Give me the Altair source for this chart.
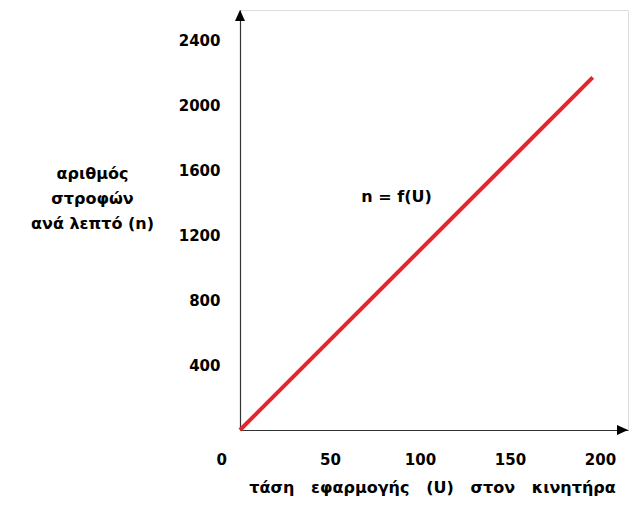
import altair as alt
import pandas as pd

# Data
voltage = [0, 196]          # U
speed = [0, 2170]           # n
x_ticks = [0, 50, 100, 150, 200]
y_ticks = [400, 800, 1200, 1600, 2000, 2400]
note_text = ["n = f(U)"]
note_x = [87]
note_y = [1434]

X_MAX = 215.6
Y_MAX = 2585

FONT = "DejaVu Sans"
W, H = 388, 420
SP = " \u00a0\u00a0"

line_df = pd.DataFrame({"U": voltage, "n": speed})
note_df = pd.DataFrame({"U": note_x, "n": note_y, "t": note_text})
arrow_up_df = pd.DataFrame({"U": [0], "n": [Y_MAX]})
arrow_right_df = pd.DataFrame({"U": [X_MAX], "n": [0]})

xscale = alt.Scale(domain=[0, X_MAX], nice=False, zero=False)
yscale = alt.Scale(domain=[0, Y_MAX], nice=False, zero=False)

x_axis = alt.Axis(
    values=x_ticks, format="d", grid=False, ticks=False, domainColor="#333333", domainWidth=1.2,
    labelFont=FONT, labelFontSize=15, labelFontWeight="bold", labelColor="black",
    labelPadding=22,
    labelOffset={"condition": {"test": "datum.value == 0", "value": -24}, "value": 0},
    title=SP.join(["τάση", "εφαρμογής", "(U)", "στον", "κινητήρα"]),
    titleFont=FONT, titleFontSize=16, titleFontWeight="bold", titleColor="black",
    titleX=192, titleY=57, titleBaseline="middle", titleAlign="center",
)
y_axis = alt.Axis(
    values=y_ticks, format="d", grid=False, ticks=False, domainColor="#333333", domainWidth=1.2,
    labelFont=FONT, labelFontSize=15, labelFontWeight="bold", labelColor="black",
    labelPadding=20, labelAlign="right", labelBaseline="middle",
    title=["αριθμός", "στροφών", "ανά λεπτό (n)"],
    titleFont=FONT, titleFontSize=16, titleFontWeight="bold", titleColor="black",
    titleAngle=0, titleAlign="center", titleBaseline="middle",
    titleX=-148, titleY=163, titleLineHeight=25,
)

base_line = alt.Chart(line_df).mark_line(color="#e8232b", strokeWidth=4).encode(
    x=alt.X("U:Q", scale=xscale, axis=x_axis),
    y=alt.Y("n:Q", scale=yscale, axis=y_axis),
)

note = alt.Chart(note_df).mark_text(
    font=FONT, fontSize=16, fontWeight="bold", color="black", align="center", baseline="middle"
).encode(x=alt.X("U:Q", scale=xscale), y=alt.Y("n:Q", scale=yscale), text="t:N")

arrow_up = alt.Chart(arrow_up_df).mark_point(
    shape="M0,0 L-1,2.2 L1,2.2 Z", filled=True, color="black", opacity=1, size=100, strokeWidth=0
).encode(x=alt.X("U:Q", scale=xscale), y=alt.Y("n:Q", scale=yscale))

arrow_right = alt.Chart(arrow_right_df).mark_point(
    shape="M0,0 L-2.2,-1 L-2.2,1 Z", filled=True, color="black", opacity=1, size=100, strokeWidth=0
).encode(x=alt.X("U:Q", scale=xscale), y=alt.Y("n:Q", scale=yscale))

chart = alt.layer(base_line, note, arrow_up, arrow_right).properties(
    width=W, height=H,
    autosize=alt.AutoSizeParams(type="none"),
    padding={"left": 232, "top": 2, "right": 1, "bottom": 67},
).configure_view(stroke=None).configure(background="white")

chart.save("out.html", embed_options={"renderer": "svg", "actions": False})
